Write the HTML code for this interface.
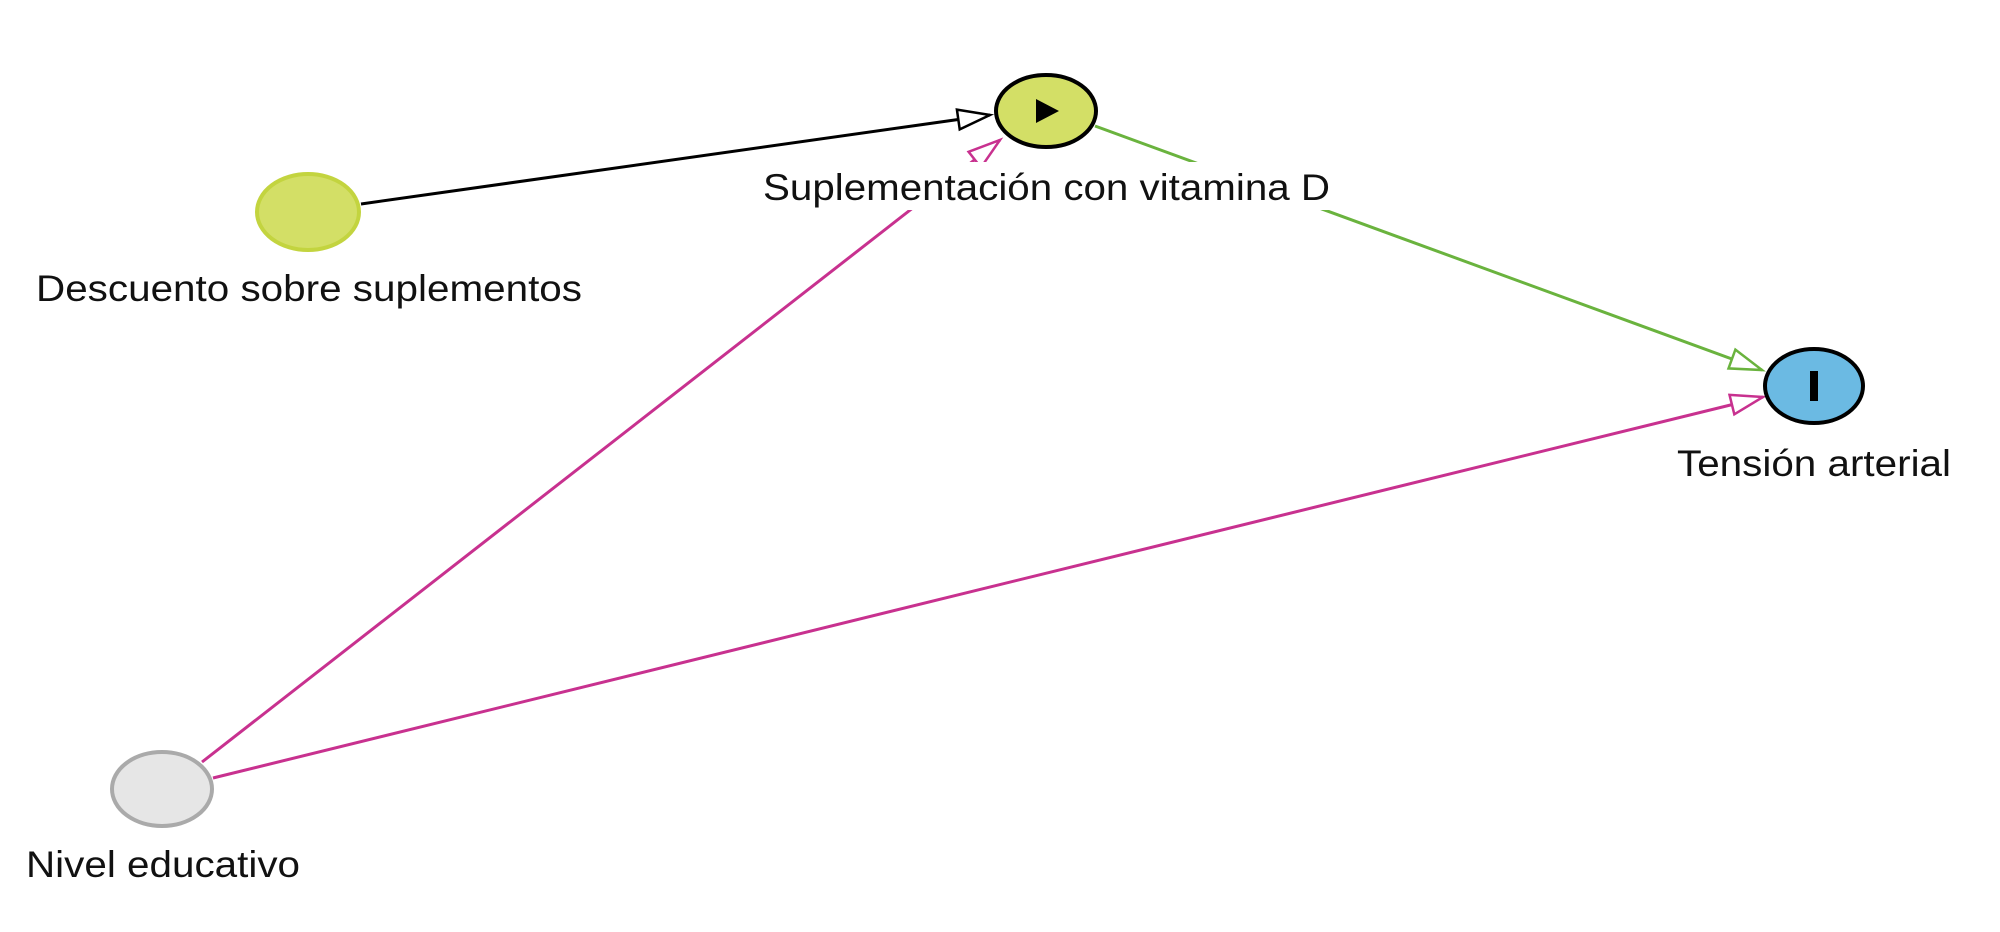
<!DOCTYPE html>
<html><head><meta charset="utf-8"><style>
html,body{margin:0;padding:0;background:#fff;}
svg{display:block;}
text{font-family:"Liberation Sans",Arial,sans-serif;font-size:37px;fill:#111;}
</style></head><body>
<svg width="2000" height="932" viewBox="0 0 2000 932" xmlns="http://www.w3.org/2000/svg">
<defs>
<marker id="mk" markerUnits="userSpaceOnUse" markerWidth="40" markerHeight="30" refX="34" refY="12" orient="auto"><path d="M2,2 L34,12 L2,22 Z" fill="#fff" stroke="#000" stroke-width="2.5"/></marker>
<marker id="mg" markerUnits="userSpaceOnUse" markerWidth="40" markerHeight="30" refX="34" refY="12" orient="auto"><path d="M2,2 L34,12 L2,22 Z" fill="#fff" stroke="#6ab33e" stroke-width="2.5"/></marker>
<marker id="mp" markerUnits="userSpaceOnUse" markerWidth="40" markerHeight="30" refX="34" refY="12" orient="auto"><path d="M2,2 L34,12 L2,22 Z" fill="#fff" stroke="#c8318f" stroke-width="2.5"/></marker>
</defs>
<line x1="361" y1="204" x2="990" y2="115" stroke="#000" stroke-width="3" marker-end="url(#mk)"/>
<line x1="1095" y1="126" x2="1762" y2="370" stroke="#6ab33e" stroke-width="3" marker-end="url(#mg)"/>
<line x1="202" y1="762" x2="1000" y2="140" stroke="#c8318f" stroke-width="3" marker-end="url(#mp)"/>
<line x1="213" y1="778" x2="1763" y2="397" stroke="#c8318f" stroke-width="3" marker-end="url(#mp)"/>
<rect x="760" y="162" width="574" height="48" fill="#fff"/>
<text x="763" y="200" textLength="567" lengthAdjust="spacingAndGlyphs">Suplementación con vitamina D</text>
<ellipse cx="1046" cy="111" rx="50" ry="36" fill="#d3df66" stroke="#000" stroke-width="4"/>
<path d="M1036,99 L1059,111 L1036,123 Z" fill="#000"/>
<ellipse cx="308" cy="212" rx="51" ry="38" fill="#d3df66" stroke="#c3d43f" stroke-width="4"/>
<text x="36" y="301" textLength="546" lengthAdjust="spacingAndGlyphs">Descuento sobre suplementos</text>
<ellipse cx="1814" cy="386" rx="49" ry="37" fill="#6bbae3" stroke="#000" stroke-width="4"/>
<rect x="1810" y="371" width="8" height="30" fill="#000"/>
<text x="1677" y="476" textLength="274" lengthAdjust="spacingAndGlyphs">Tensión arterial</text>
<ellipse cx="162" cy="789" rx="50" ry="37" fill="#e6e6e6" stroke="#aaa" stroke-width="4"/>
<text x="26" y="877" textLength="274" lengthAdjust="spacingAndGlyphs">Nivel educativo</text>
</svg>
</body></html>
